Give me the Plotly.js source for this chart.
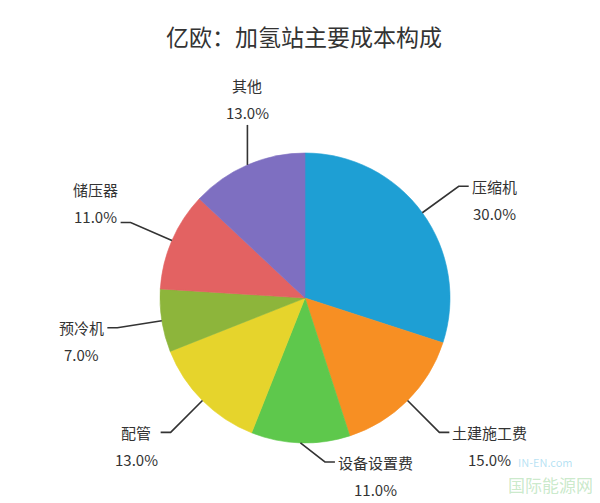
<!DOCTYPE html>
<html>
<head>
<meta charset="utf-8">
<script src="https://cdn.plot.ly/plotly-3.0.1.min.js"></script>
<style>html,body{margin:0;padding:0;background:#fff}#chart{width:600px;height:503px}</style>
</head>
<body>
<div id="chart"></div>
<script>
// ---- data ----
const titleText = '亿欧：加氢站主要成本构成';
const categories = ['压缩机', '土建施工费', '设备设置费', '配管', '预冷机', '储压器', '其他'];
const values = [30, 15, 11, 13, 7, 11, 13];
const colors = ['#1e9fd4', '#f78f23', '#5ec84c', '#e6d42c', '#8db53b', '#e36262', '#7e6fc1'];

// ---- style / layout constants ----
const W = 600, H = 503;
const CX = 305, CY = 298, R = 145;   // pie centre & radius in px
const L1 = 45, L2 = 10, GAP = 3, LINE_GAP = 27;
const FONT = '"Noto Sans CJK SC", "Noto Sans", sans-serif';
const FS = 15;
const TXT = '#333333';

const px = x => x / W;
const py = y => 1 - y / H;

const ctx = document.createElement('canvas').getContext('2d');
ctx.font = FS + 'px "Noto Sans CJK SC"';
const tw = s => ctx.measureText(s).width;

const total = values.reduce((a, b) => a + b, 0);
const shapes = [], annotations = [];
let cum = 0;
values.forEach((v, i) => {
  const a = (cum + v / 2) / total * 2 * Math.PI;
  cum += v;
  const s = Math.sin(a), c = Math.cos(a);
  const ex = CX + R * s, ey = CY - R * c;
  const pctText = (v / total * 100).toFixed(1) + '%';
  let pts, nameX, nameY, pctX, pctY;
  if (c > 0.9) {
    // near the top: vertical leader, text above
    const ey2 = ey - 40;
    pts = [[ex, ey], [ex, ey2]];
    nameX = pctX = ex;
    pctY = ey2 - 12;
    nameY = pctY - LINE_GAP;
  } else {
    const side = s > -0.1 ? 1 : -1;
    let bx = ex + L1 * s, by = ey - L1 * c;
    const maxY = H - 41;
    if (by > maxY) { bx += side * (by - maxY); by = maxY; }
    const endX = bx + side * L2;
    pts = [[ex, ey], [bx, by], [endX, by]];
    const w = Math.max(tw(categories[i]), tw(pctText));
    nameX = pctX = endX + side * (GAP + w / 2);
    if (side < 0 && c > 0) {
      // upper-left: text block sits above the line
      pctY = by - 6;
      nameY = pctY - LINE_GAP;
    } else {
      nameY = by;
      pctY = by + LINE_GAP;
    }
  }
  shapes.push({
    type: 'path', xref: 'paper', yref: 'paper',
    path: pts.map((p, k) => (k ? 'L' : 'M') + px(p[0]) + ',' + py(p[1])).join(' '),
    line: {color: '#333', width: 1.6}
  });
  annotations.push({
    xref: 'paper', yref: 'paper', x: px(nameX), y: py(nameY),
    xanchor: 'center', yanchor: 'middle', showarrow: false,
    text: categories[i], font: {family: FONT, size: FS, color: TXT}
  });
  annotations.push({
    xref: 'paper', yref: 'paper', x: px(pctX), y: py(pctY),
    xanchor: 'center', yanchor: 'middle', showarrow: false,
    text: pctText, font: {family: FONT, size: FS, color: TXT}
  });
});

// faint watermark
annotations.push({xref: 'paper', yref: 'paper', x: px(545), y: py(462), xanchor: 'center', yanchor: 'middle',
  showarrow: false, text: 'IN-EN.com', font: {family: FONT, size: 11, color: 'rgba(90,190,230,0.45)'}});
annotations.push({xref: 'paper', yref: 'paper', x: px(550), y: py(484), xanchor: 'center', yanchor: 'middle',
  showarrow: false, text: '国际能源网', font: {family: FONT, size: 17, color: 'rgba(120,200,120,0.4)'}});

const trace = {
  type: 'pie',
  labels: categories,
  values: values,
  marker: {colors: colors, line: {width: 0.6, color: colors}},
  sort: false,
  direction: 'clockwise',
  rotation: 0,
  textinfo: 'none',
  hoverinfo: 'label+percent',
  domain: {x: [px(CX - R), px(CX + R)], y: [py(CY + R), py(CY - R)]}
};

const layout = {
  width: W, height: H,
  margin: {l: 0, r: 0, t: 0, b: 0},
  paper_bgcolor: '#ffffff',
  showlegend: false,
  title: {text: titleText, x: px(304), xanchor: 'center', y: py(38), yanchor: 'middle',
          font: {family: FONT, size: 23, color: TXT}},
  shapes: shapes,
  annotations: annotations
};

Plotly.newPlot('chart', [trace], layout, {displayModeBar: false, staticPlot: true});
</script>
</body>
</html>
